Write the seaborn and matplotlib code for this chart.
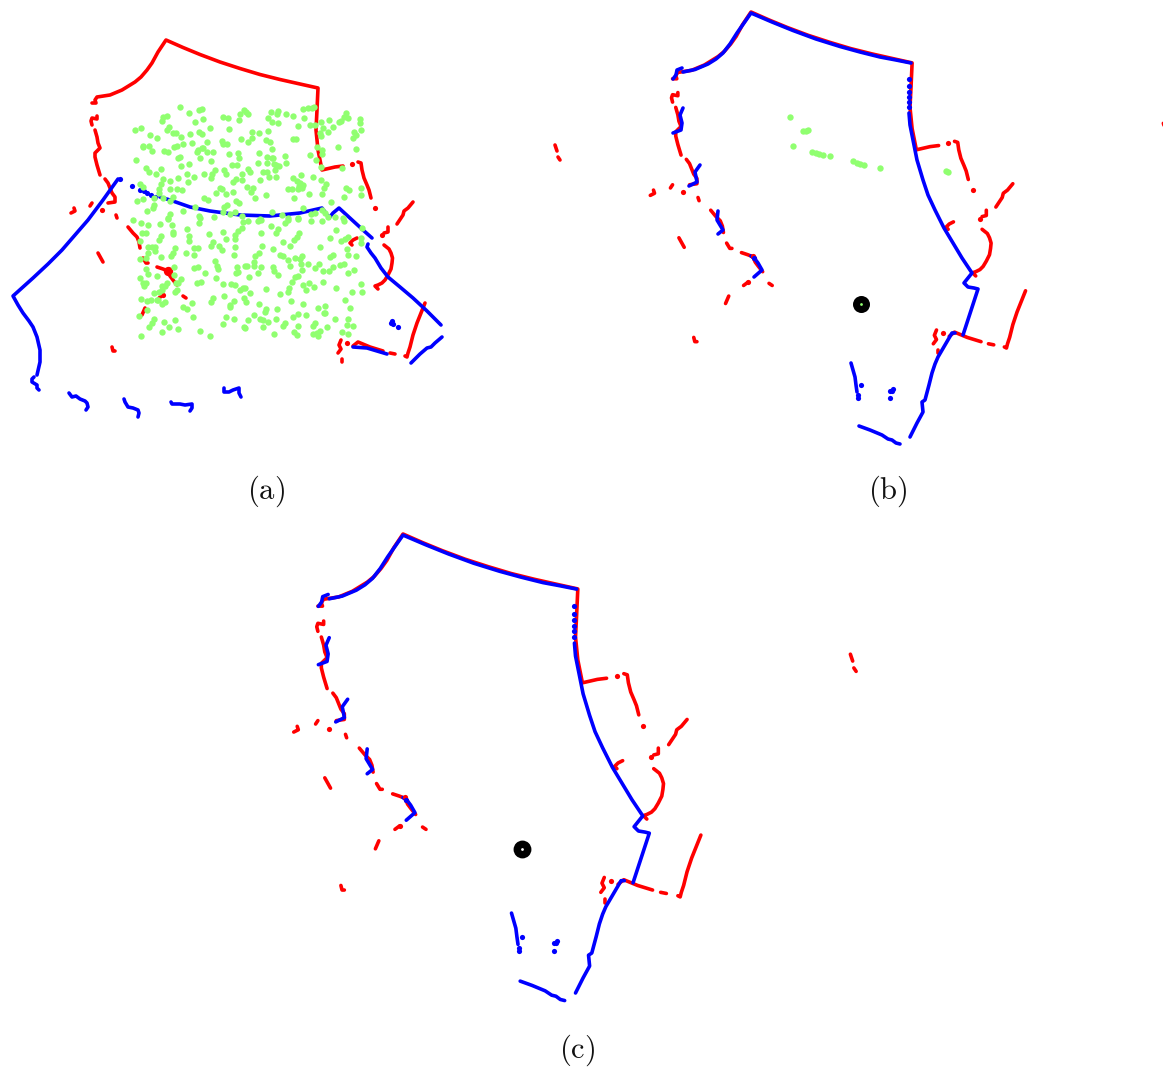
import numpy as np
import pandas as pd
import matplotlib
matplotlib.use("Agg")
import matplotlib.pyplot as plt
import seaborn as sns

# reference scan, panel (a) pixels
red_segments = [
    [(92,103),(96,103),(95,100),(97,97),(110,95),(122,90),(135,82),(141,77),(147,70),(152,63),(158,52),(166,40),(183,47.5),(200,54.5),(220,62),(240,68.5),(260,74.5),(280,79.5),(300,84),(318,88),(317,110),(316,130),(318,150),(320,160),(322,170),(335,167),(343,166)],
    [(358,162),(361,163),(362,170),(364,178),(367,185),(369,190),(371,198)],
    [(413,202),(408,208),(404,211),(403,215),(397,224)],
    [(388,227),(388,232),(384,233)],
    [(97,116),(97,119),(92,118),(91,121),(92,125)],
    [(95,130),(97,137),(98,143),(100,148),(95,153),(95,157),(97,165),(100,175)],
    [(105,179),(108,183),(110,188),(112,193),(115,197),(115,202),(108,203)],
    [(92,203),(90,206)],
    [(74,208),(75,211),(71,213)],
    [(116,215),(117,218)],
    [(128,227),(133,233),(137,237),(139,242),(140,248)],
    [(143,258),(146,263),(148,263)],
    [(157,267),(163,269),(168,271),(170,276),(173,280),(177,285)],
    [(183,296),(186,298)],
    [(163,295),(159,298)],
    [(145,308),(142,315)],
    [(98,253),(103,262)],
    [(112,347),(113,351),(115,351)],
    [(357,238),(353,240),(350,243),(352,245)],
    [(384,245),(389,249),(391,253),(392.5,258),(392,263),(391,269),(388,275),(385,280),(382,283),(378,285),(375,286),(378,289)],
    [(425,303),(421,313),(417,323),(413,335),(410,347),(408,353),(407,357),(405,356)],
    [(395,354),(390,353)],
    [(383,351),(370,347),(358,342),(353,346)],
    [(341,340),(339,345),(341,349),(338,353)],
    [(342,359),(342,362)],
    [(555,145),(557,151)],
    [(558,157),(560,160)],
]
red_dots = [(352,164),(375,208),(382,235),(102,210),(347,343),(168,270),(169,272),(163,295)]
red_blobs = [(168,271)]

# blue scan before alignment, panel (a) pixels
blue_a_segments = [
    [(118,179),(103,200),(88,220),(75,235),(62,250),(48,264),(33,278),(13,296),(18,305),(23,313),(29,321),(33,327),(37,337),(40,350),(40,362),(37,375)],
    [(34,377),(32,379),(32,382),(37,385),(37,388),(39,390)],
    [(69,393),(72,397),(76,396),(80,399),(85,401),(87,403),(88,407),(86,410)],
    [(124,399),(125,402),(128,407),(133,408),(138,410),(139,413),(138,417)],
    [(171,402),(172,404),(180,404),(185,405),(192,404),(192,408),(190,411)],
    [(224,388),(224,392),(229,392),(233,390),(239,388),(239,393),(241,397)],
    [(353,347),(367,348),(387,354)],
    [(411,363),(420,354),(427,348),(431,347),(435,343),(442,337)],
    [(368,244),(367,247),(371,253),(375,258),(381,268),(388,277),(400,287),(413,298),(427,311),(441,325)],
    [(372,238),(363,230),(339,208),(333,213),(329,218),(325,212),(322,208),(300,213),(270,216),(240,215),(210,211),(190,207),(170,200),(160,197)],
]
blue_a_dots = [(120,179),(132,186),(140,190),(144,191),(147,193),(151,195),(155,197),(392,321),(391,323),(393,324),(398,327)]

# blue scan after alignment, panel (b) pixels
blue_b_segments = [
    [(682,68),(677,70),(676,75),(673,79)],
    [(683,72),(695,69.5),(708,64),(716,59),(723,53),(730,44),(737,33),(744,23),(751,13),(772,22),(793,30.5),(816,39),(840,46.5),(860,52),(880,57),(896,60),(911,63)],
    [(909,113),(910,125),(913,140),(917,160),(923,180),(928,195),(935,210),(944,228),(953,243),(962,258),(972,273),(964,283),(968,287),(974,288),(978,289),(963,335)],
    [(955,333),(952,333),(938,357),(935,364),(932,373),(929,385),(925,400),(922,402),(923,412),(917,423),(913,431),(910,437)],
    [(859,426),(870,430),(882,435),(888,439),(892,440),(896,443),(900,444)],
    [(851,363),(853,370),(855,377),(856,385),(857,392)],
    [(683,108),(680,115),(682,123),(681,130),(673,133)],
    [(700,165),(695,172),(697,182),(689,186)],
    [(718,211),(717,220),(723,230),(718,234)],
    [(751,256),(755,259),(758,263),(762,270),(754,277)],
]
blue_b_dots = [(909,79),(909,86),(909,92),(909,97),(909,102),(909,107),(858,395),(858,398),(861,385),
               (890,391),(893,389),(892,391),(890,398),(754,258)]

# matched / sampled points
green_a = [
    (180,107),(189,113),(199,110),(202,109),(195,122),(203,119),(163,117),(167,116),(162,121),(169,127),(167,130),(141,128),(135,130),
    (150,135),(157,138),(173,133),(176,133),(181,137),(190,134),(199,132),(202,134),(210,128),(223,117),(228,118),(240,114),(239,120),
    (244,110),(229,129),(241,139),(222,141),(223,144),(227,144),(207,142),(192,143),(183,144),(177,146),(174,147),(143,146),(143,147),
    (149,146),(152,151),(164,151),(168,152),(198,150),(202,148),(203,148),(197,152),(207,152),(213,152),(229,154),(238,153),(239,158),
    (200,158),(180,157),(178,158),(211,161),(136,160),(181,166),(189,164),(232,165),(237,165),(215,170),(224,170),(226,174),(204,174),
    (146,168),(149,172),(161,169),(156,174),(163,179),(187,174),(194,177),(178,178),(170,181),(212,174),(211,178),(242,174),(236,179),
    (233,182),(188,182),(242,180),(161,184),(159,189),(170,189),(177,189),(182,190),(140,184),(143,187),(220,188),(222,189),(216,193),
    (226,194),(233,192),(159,193),(154,198),(163,198),(173,197),(170,201),(204,198),(208,200),(137,201),(143,199),(154,205),(153,208),
    (147,211),(227,205),(224,207),(236,201),(239,203),(195,207),(183,211),(170,214),(168,218),(200,218),(214,217),(223,212),(230,214),
    (235,212),(242,216),(133,220),(246,112),(248,114),(271,112),(278,111),(277,114),(268,118),(286,114),(293,116),(272,122),(278,123),
    (303,109),(308,108),(312,108),(314,107),(304,118),(298,126),(310,125),(315,125),(321,122),(329,120),(323,128),(333,127),(328,132),
    (339,122),(341,121),(346,113),(348,118),(344,117),(360,119),(360,123),(361,130),(354,132),(356,135),(353,138),(320,133),(321,136),
    (252,132),(259,133),(268,131),(252,138),(248,142),(266,140),(270,142),(293,139),(296,139),(317,147),(322,150),(322,154),(338,147),
    (356,149),(272,149),(259,153),(267,157),(272,158),(273,158),(285,156),(286,163),(310,155),(316,160),(321,167),(342,168),(258,163),
    (267,163),(274,164),(276,165),(279,166),(275,170),(248,169),(250,172),(263,172),(267,172),(269,177),(276,177),(260,180),(301,175),
    (313,177),(293,178),(297,181),(300,183),(303,185),(299,186),(302,188),(298,189),(321,180),(326,184),(324,188),(247,187),(253,188),
    (251,192),(288,189),(292,189),(346,188),(349,190),(361,188),(361,195),(266,195),(255,198),(309,194),(322,194),(294,198),(344,197),
    (331,202),(303,208),(272,212),(282,215),(315,213),(311,214),(322,210),(325,213),(335,217),(343,218),(328,217),(298,218),(288,218),
    (260,219),(141,223),(148,225),(160,224),(168,219),(172,225),(173,232),(173,234),(187,229),(199,216),(199,223),(189,236),(189,241),
    (161,236),(159,240),(142,233),(146,233),(140,241),(209,234),(223,232),(226,239),(235,239),(235,235),(238,231),(242,228),(243,222),
    (213,242),(211,246),(219,246),(222,250),(235,247),(234,255),(148,247),(152,247),(155,247),(155,251),(148,253),(146,258),(140,259),
    (161,257),(175,248),(173,253),(171,256),(186,253),(194,248),(198,248),(194,255),(215,261),(217,266),(218,269),(198,267),(194,268),
    (205,273),(216,278),(237,267),(236,273),(245,266),(238,272),(174,267),(146,269),(148,274),(157,276),(174,275),(181,279),(178,283),
    (176,283),(175,292),(177,290),(140,278),(146,283),(143,283),(144,286),(167,283),(165,286),(162,286),(162,290),(159,292),(197,283),
    (201,282),(223,284),(231,284),(235,285),(240,290),(243,288),(154,293),(141,299),(147,301),(151,300),(157,300),(158,300),(165,302),
    (162,304),(213,298),(211,302),(224,296),(230,305),(230,307),(234,301),(244,298),(192,303),(183,307),(187,309),(147,310),(139,316),
    (193,317),(154,319),(152,323),(149,327),(164,322),(175,320),(169,327),(178,329),(162,332),(141,336),(200,331),(210,336),(226,317),
    (223,324),(234,319),(244,327),(248,221),(258,221),(261,220),(271,226),(278,229),(276,233),(261,233),(288,220),(285,223),(298,219),
    (311,221),(322,221),(344,221),(362,228),(336,230),(330,238),(299,233),(297,237),(294,240),(283,242),(290,246),(262,246),(273,249),
    (320,247),(341,241),(345,239),(348,237),(361,238),(361,243),(347,249),(348,255),(356,256),(333,255),(330,257),(302,256),(300,259),
    (295,258),(280,255),(283,256),(288,260),(290,266),(259,253),(255,256),(254,262),(254,266),(261,267),(247,266),(301,264),(308,264),
    (319,264),(315,268),(333,267),(329,271),(323,271),(344,264),(340,265),(354,270),(348,273),(273,267),(274,271),(278,275),(258,273),
    (249,277),(302,270),(298,276),(295,277),(292,282),(323,282),(309,283),(303,285),(306,290),(314,287),(289,288),(288,292),(280,294),
    (266,289),(336,288),(250,293),(245,288),(361,284),(362,292),(352,292),(345,300),(246,302),(291,301),(259,304),(303,304),(350,308),
    (266,309),(265,312),(277,309),(318,308),(325,306),(324,313),(325,313),(254,315),(248,320),(306,315),(298,314),(293,317),(335,319),
    (260,319),(263,320),(268,322),(276,319),(285,323),(283,326),(298,326),(315,323),(313,326),(348,319),(347,325),(353,326),(327,327),
    (263,327),(245,328),(294,332),(297,335),(320,331),(317,333),(313,334),(318,336),(342,332),(348,334),(274,334),
]
green_b = [(790,117),(803,131),(806,131),(808,130),(793,146),(812,152),(816,153),(819,154),(823,155),(830,156),(853,161),(857,163),
           (860,164),(864,165),(880,168),(946,171),(948,172)]
target_b = [(861,304)]
captions = ["(a)", "(b)", "(c)"]
caption_xy = [(266,491), (888,491), (577,1050)]


def a_to_b(x, y):
    return 751 + 1.06 * (x - 166), 12 + 1.06 * (y - 40)


def b_to_c(x, y):
    return 403 + 1.085 * (x - 751), 534 + 1.08 * (y - 12)


def a_to_c(x, y):
    return b_to_c(*a_to_b(x, y))


def same(x, y):
    return x, y


def seg_frame(segments, move=same):
    rows = []
    for i, seg in enumerate(segments):
        for x, y in seg:
            px, py = move(x, y)
            rows.append({"x": px, "y": py, "seg": i})
    return pd.DataFrame(rows)


def dot_frame(points, move=same):
    rows = [move(x, y) for x, y in points]
    return pd.DataFrame(rows, columns=["x", "y"])


def draw_lines(ax, segments, color, move=same, lw=2.6):
    sns.lineplot(data=seg_frame(segments, move), x="x", y="y", units="seg", estimator=None, sort=False,
                 color=color, lw=lw, solid_capstyle="round", solid_joinstyle="round", ax=ax, legend=False, zorder=2)


def draw_dots(ax, points, color, move=same, size=14, z=3):
    sns.scatterplot(data=dot_frame(points, move), x="x", y="y", color=color, s=size, linewidth=0, ax=ax, legend=False, zorder=z)


sns.set_theme(style="white")
plt.rcParams["mathtext.fontset"] = "cm"

fig = plt.figure(figsize=(11.63, 10.68), dpi=100)
ax = fig.add_axes([0, 0, 1, 1])

red = "#ff0000"
blue = "#0000ff"
green = "#90ff70"

# panel a
draw_lines(ax, red_segments, red)
draw_dots(ax, red_dots, red)
draw_dots(ax, red_blobs, red, size=45)
draw_lines(ax, blue_a_segments, blue)
draw_dots(ax, blue_a_dots, blue)
draw_dots(ax, green_a, green, size=21, z=4)

# panel b
draw_lines(ax, red_segments, red, a_to_b)
draw_dots(ax, red_dots, red, a_to_b)
draw_lines(ax, blue_b_segments, blue)
draw_dots(ax, blue_b_dots, blue)
draw_dots(ax, green_b, green, size=21, z=4)
draw_dots(ax, target_b, "black", size=150, z=5)
draw_dots(ax, target_b, green, size=4, z=6)

# panel c
draw_lines(ax, red_segments, red, a_to_c)
draw_dots(ax, red_dots, red, a_to_c)
draw_lines(ax, blue_b_segments, blue, b_to_c)
draw_dots(ax, blue_b_dots, blue, b_to_c)
draw_dots(ax, target_b, "black", size=165, move=b_to_c, z=5)
draw_dots(ax, target_b, "white", size=4, move=b_to_c, z=6)

for label, (cx, cy) in zip(captions, caption_xy):
    ax.text(cx, cy, rf"$\mathrm{{{label}}}$", ha="center", va="center", fontsize=22, color="#111111")

ax.set_xlim(0, 1163)
ax.set_ylim(1068, 0)
ax.set_xlabel("")
ax.set_ylabel("")
ax.axis("off")

fig.savefig("out.png", dpi=100, facecolor="white")
